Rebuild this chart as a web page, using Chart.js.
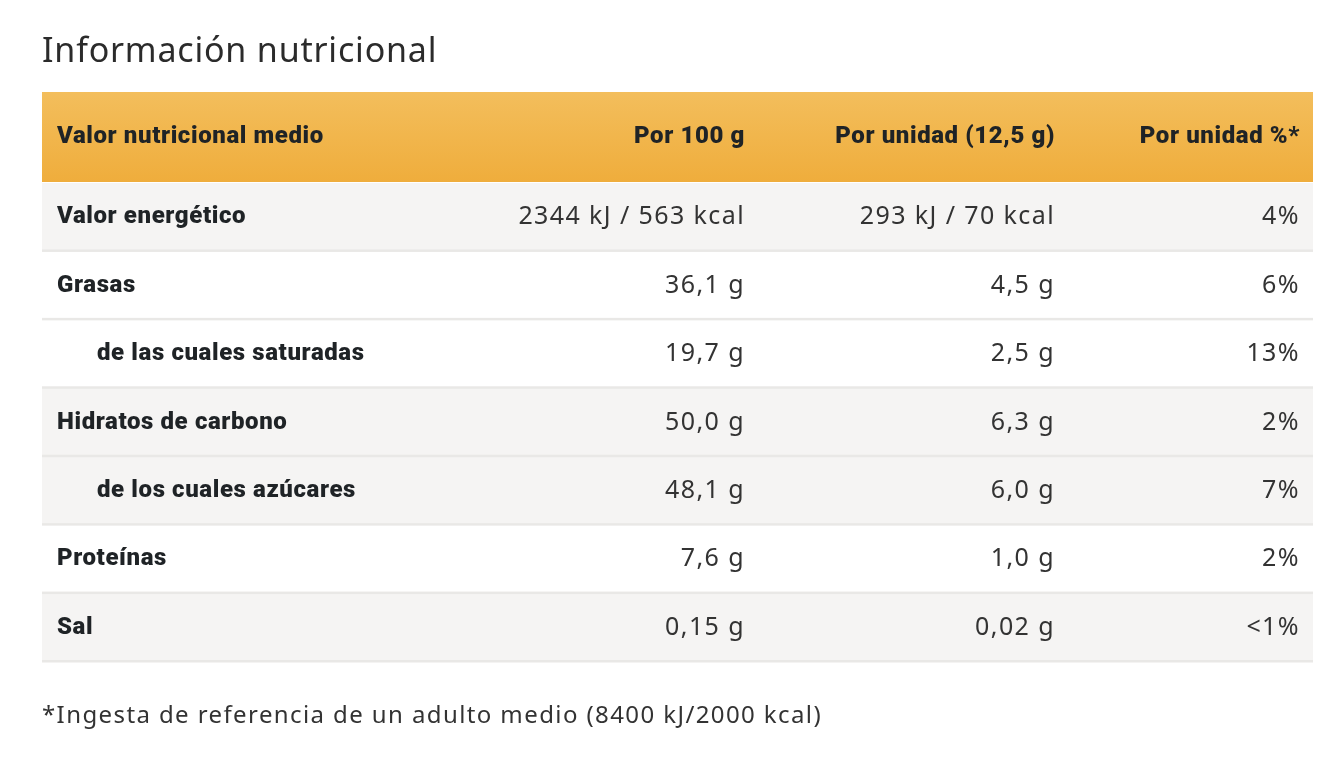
<!DOCTYPE html>
<html><head><meta charset="utf-8">
<script src="https://cdn.jsdelivr.net/npm/chart.js@4"></script>
<style>html,body{margin:0;padding:0;background:#fff;}#w{position:absolute;left:0;top:0;width:1336px;height:762px;}</style>
</head><body><div id="w"><canvas id="c"></canvas></div>
<script>
const title = "Información nutricional";
const headers = ["Valor nutricional medio","Por 100 g","Por unidad (12,5 g)","Por unidad %*"];
const nutrients = ["Valor energético","Grasas","de las cuales saturadas","Hidratos de carbono","de los cuales azúcares","Proteínas","Sal"];
const indented = [false,false,true,false,true,false,false];
const per100 = ["2344 kJ / 563 kcal","36,1 g","19,7 g","50,0 g","48,1 g","7,6 g","0,15 g"];
const perUnit = ["293 kJ / 70 kcal","4,5 g","2,5 g","6,3 g","6,0 g","1,0 g","0,02 g"];
const perUnitPct = ["4%","6%","13%","2%","7%","2%","<1%"];
const shaded = [true,false,false,true,true,false,true];
const footnote = "*Ingesta de referencia de un adulto medio (8400 kJ/2000 kcal)";

const TW = 1271;
const colRight = [703, 1013, 1258];
const boldFont = "900 24px Roboto, 'Noto Sans', sans-serif";
const regFont = "400 25px 'Noto Sans', sans-serif";

function bold(ctx){ctx.fillStyle='#1f2326';ctx.font=boldFont;ctx.letterSpacing='0.6px';}
function reg(ctx){ctx.fillStyle='#333';ctx.font=regFont;ctx.letterSpacing='1.4px';}

const tablePlugin = {
  id:'table',
  afterDatasetsDraw(chart){
    const {ctx, chartArea:a, scales:{x,y}} = chart;
    ctx.save();
    ctx.fillStyle = '#2b2b2b';
    ctx.font = "400 34px 'Noto Sans', sans-serif";
    ctx.letterSpacing='0.8px';
    ctx.textBaseline = 'middle'; ctx.textAlign = 'left';
    ctx.fillText(title, x.getPixelForValue(0), 52);
    const hTop = a.top - 91, hBot = a.top - 1;
    const g = ctx.createLinearGradient(0,hTop,0,hBot);
    g.addColorStop(0,'#f3be5c'); g.addColorStop(1,'#efad3c');
    ctx.fillStyle = g;
    ctx.fillRect(x.getPixelForValue(0), hTop, x.getPixelForValue(TW)-x.getPixelForValue(0), hBot-hTop);
    bold(ctx);
    const hy = (hTop+hBot)/2;
    ctx.fillText(headers[0], x.getPixelForValue(15), hy);
    ctx.textAlign='right';
    headers.slice(1).forEach((h,i)=>ctx.fillText(h, x.getPixelForValue(colRight[i]), hy));
    nutrients.forEach((n,i)=>{
      const cy = y.getPixelForValue(i);
      const half = (y.getPixelForValue(1)-y.getPixelForValue(0))/2;
      ctx.fillStyle = '#e9e8e6';
      ctx.fillRect(x.getPixelForValue(0), cy+half-2, x.getPixelForValue(TW)-x.getPixelForValue(0), 2.5);
      ctx.textAlign='left'; bold(ctx);
      ctx.fillText(n, x.getPixelForValue(indented[i]?55:15), cy);
      ctx.textAlign='right'; reg(ctx);
      ctx.fillText(per100[i], x.getPixelForValue(colRight[0]), cy);
      ctx.fillText(perUnit[i], x.getPixelForValue(colRight[1]), cy);
      ctx.fillText(perUnitPct[i], x.getPixelForValue(colRight[2]), cy);
    });
    ctx.textAlign='left'; ctx.fillStyle='#333'; ctx.font="400 24px 'Noto Sans', sans-serif";
    ctx.letterSpacing='1.4px';
    ctx.fillText(footnote, x.getPixelForValue(0), 716);
    ctx.restore();
  }
};

new Chart(document.getElementById('c'), {
  type:'bar',
  data:{
    labels: nutrients,
    datasets:[{
      data: nutrients.map(()=>[0,TW]),
      backgroundColor: shaded.map(s=>s?'#f5f4f3':'#ffffff'),
      barPercentage:1, categoryPercentage:1, borderWidth:0
    }]
  },
  options:{
    indexAxis:'y', responsive:true, maintainAspectRatio:false, animation:false,
    layout:{padding:{left:42,right:23,top:183,bottom:100}},
    plugins:{legend:{display:false},tooltip:{enabled:false}},
    scales:{
      x:{type:'linear',min:0,max:TW,display:false},
      y:{display:false,grid:{display:false}}
    }
  },
  plugins:[tablePlugin]
});
</script></body></html>
